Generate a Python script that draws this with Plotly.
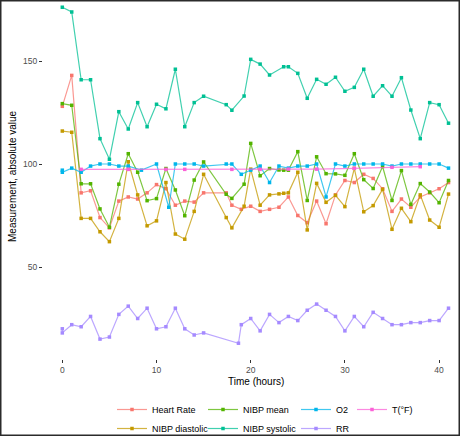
import plotly.graph_objects as go

# ---------------- data ----------------
hr_t = [0, 1, 2, 3, 4, 5, 6, 7, 8, 9, 10, 11, 12, 13, 14, 15, 17.4, 18, 19,
        20, 21, 22, 23, 24, 25, 26, 27, 28, 29, 30, 31, 32, 33, 34, 35, 36, 37, 38, 39, 40, 41]
hr_v = [128, 143, 86, 87, 74, 69, 82, 84, 83, 86, 90, 88, 80, 82, 81.5, 86, 86, 80, 78,
        79.5, 77, 78, 79, 84, 75, 71.5, 82, 71, 85, 92, 91, 95, 93, 88, 77, 83, 79, 84, 86, 88, 91]

nibp_t = [0, 1, 2, 3, 4, 5, 6, 7, 8, 9, 10, 11, 12, 13, 14, 15, 17.4, 18, 19.3,
          20, 21, 22, 23, 23.5, 24, 25, 26, 27, 28, 29, 30, 31, 32, 33, 34, 35, 36, 37, 38, 39, 40, 41]
dia_v = [116, 115.4, 73.6, 73.6, 67.1, 62.3, 73.6, 101.1, 85, 70, 72.4, 91, 66, 63.5, 77, 95,
         74, 69, 79.5, 97.5, 80, 85, 85.5, 85.8, 86,
         96, 68, 90.6, 81.4, 84.8, 79.3, 97.9, 76.8, 79.8, 87.7, 68.3, 78.5, 72, 85, 72.8, 69.3, 85.4]
mean_v = [129.3, 128.5, 90.4, 90.4, 78.2, 69.3, 90.2, 105, 96, 82.2, 83.2, 97.8, 87.4, 74.9, 92.2, 101,
          85.3, 83.3, 90.2, 110, 94.3, 97.8, 97.1, 97, 97,
          106, 82.3, 103.5, 95.3, 95.2, 94.5, 105, 92.4, 88.1, 98.8, 82.3, 96.8, 80.4, 90.5, 86.4, 81.2, 92]

sys_t = [0, 1, 2, 3, 4, 5, 6, 7, 8, 9, 10, 11, 12, 13, 14, 15, 17.4, 18, 19.3,
         20, 21, 22, 23.5, 24, 25, 26, 27, 28, 29, 30, 31, 32, 33, 34, 35, 36, 37, 38, 39, 40, 41]
sys_v = [176.1, 173.8, 140.9, 140.9, 112.3, 102.3, 125.4, 117, 129.8, 118.1, 129, 126.8, 146, 118.1, 129.8, 132.9,
         128.8, 126.1, 133, 150.8, 148.5, 143.2, 147.2, 147.2,
         144, 131.9, 141.1, 138.7, 142.1, 135.3, 137.2, 146, 132.9, 138, 132.9, 141.9, 126.2, 112.3, 129.8, 128.8, 119.8]

o2_t = [0, 0, 1, 2, 3, 4, 5, 6, 7, 8.4, 10, 11.3, 12, 13, 14, 15, 17.4, 18, 19,
        20, 21, 22, 23, 24, 25, 26, 27, 28, 29, 30, 31, 32, 33, 34, 35, 36, 37, 38, 39, 40, 41]
o2_v = [97, 96, 98, 96, 99, 100, 100, 99, 99, 97, 100, 79, 100, 100, 100, 99, 100, 100, 95,
        97, 99, 91, 99, 98, 99, 99, 100, 84, 100, 99, 100, 100, 100, 100, 99, 100, 100, 100, 100, 100, 98]

rr_t = [0, 0, 1, 2, 3, 4, 5, 6, 7, 8, 9, 10, 11, 12, 13, 14, 15, 18.7, 19,
        20, 21, 22, 23, 24, 25, 26, 27, 28, 29, 30, 31, 32, 33, 34, 35, 36, 37, 38, 39, 40, 41]
rr_v = [20, 18, 22, 21, 26, 15, 16, 27, 31, 25, 30, 20, 21, 30, 20, 17, 18, 13, 22,
        25, 19, 27, 23, 26, 24, 29, 32, 29, 26, 19, 26, 21, 28, 25, 22, 22, 23, 23, 24, 24, 30]

temp_t = [2, 7, 11, 13, 18, 21, 24, 27, 31, 35, 38]
temp_v = [97.4, 97.4, 97.4, 97.4, 97.4, 97.4, 97.5, 97.5, 97.9, 98.4, 98.7]

x_ticks = [0, 10, 20, 30, 40]
y_ticks = [50, 100, 150]

series = [
    ("Heart Rate", hr_t, hr_v, "#F8766D", "legend"),
    ("NIBP diastolic", nibp_t, dia_v, "#C49A00", "legend"),
    ("NIBP mean", nibp_t, mean_v, "#53B400", "legend2"),
    ("NIBP systolic", sys_t, sys_v, "#00C094", "legend2"),
    ("O2", o2_t, o2_v, "#00B6EB", "legend3"),
    ("RR", rr_t, rr_v, "#A58AFF", "legend3"),
    ("T(°F)", temp_t, temp_v, "#FB61D7", "legend4"),
]

def rgba(h, a):
    h = h.lstrip("#")
    return "rgba(%d,%d,%d,%s)" % (int(h[0:2], 16), int(h[2:4], 16), int(h[4:6], 16), a)

fig = go.Figure()
for name, t, v, col, lg in series:
    fig.add_trace(go.Scatter(
        x=t, y=v, name=name, mode="lines+markers",
        line=dict(color=rgba(col, 0.75), width=1.2),
        marker=dict(color=col, size=3.5, symbol="square"),
        legend=lg,
    ))

W, H = 460, 436
ml, mr, mt, mb = 43, 3, 2, 77
pw, ph = W - ml - mr, H - mt - mb

def px_x(p):
    return (p - ml) / pw

def px_y(p):
    return (H - mb - p) / ph

FONT = "Liberation Sans, Arial, sans-serif"
leg_common = dict(orientation="v", yanchor="top", xanchor="left",
                  xref="container", yref="container",
                  font=dict(size=9, color="black", family=FONT),
                  bgcolor="rgba(0,0,0,0)", tracegroupgap=0, itemwidth=30)
leg_y = (H - 395) / H
col_px = [112, 203, 296, 352]

fig.update_layout(
    width=W, height=H,
    margin=dict(l=ml, r=mr, t=mt, b=mb, autoexpand=False),
    paper_bgcolor="white", plot_bgcolor="white",
    font=dict(family=FONT, size=9, color="#4D4D4D"),
    xaxis=dict(range=[-2.05, (457 - 62.3) / 9.42], tickvals=x_ticks, ticks="outside", ticklen=3,
               tickcolor="#333333", tickfont=dict(size=8.5, color="#4D4D4D"), automargin=False,
               showgrid=False, zeroline=False, showline=False),
    yaxis=dict(range=[100 - (359 - 164) / 2.06, 100 + (164 - 2) / 2.06], tickvals=y_ticks,
               ticks="outside", ticklen=3, tickcolor="#333333", automargin=False,
               tickfont=dict(size=8.5, color="#4D4D4D"),
               showgrid=False, zeroline=False, showline=False),
    legend=dict(x=col_px[0] / W, y=leg_y, **leg_common),
    legend2=dict(x=col_px[1] / W, y=leg_y, **leg_common),
    legend3=dict(x=col_px[2] / W, y=leg_y, **leg_common),
    legend4=dict(x=col_px[3] / W, y=leg_y, **leg_common),
    annotations=[
        dict(text="Measurement, absolute value", xref="paper", yref="paper",
             x=px_x(12), y=px_y(176), xanchor="center", yanchor="middle",
             textangle=-90, showarrow=False,
             font=dict(size=10, color="black", family=FONT)),
        dict(text="Time (hours)", xref="paper", yref="paper",
             x=px_x(256), y=px_y(381), xanchor="center", yanchor="middle",
             showarrow=False,
             font=dict(size=10, color="black", family=FONT)),
    ],
    shapes=[
        dict(type="rect", xref="paper", yref="paper",
             x0=px_x(0.75), x1=px_x(459.25), y0=px_y(435.25), y1=px_y(0.75),
             line=dict(color="#2B2B2B", width=1.5), fillcolor="rgba(0,0,0,0)"),
    ],
)

fig.write_html("out.html", config={"displayModeBar": False},
               post_script="document.body.style.margin='0px';")
